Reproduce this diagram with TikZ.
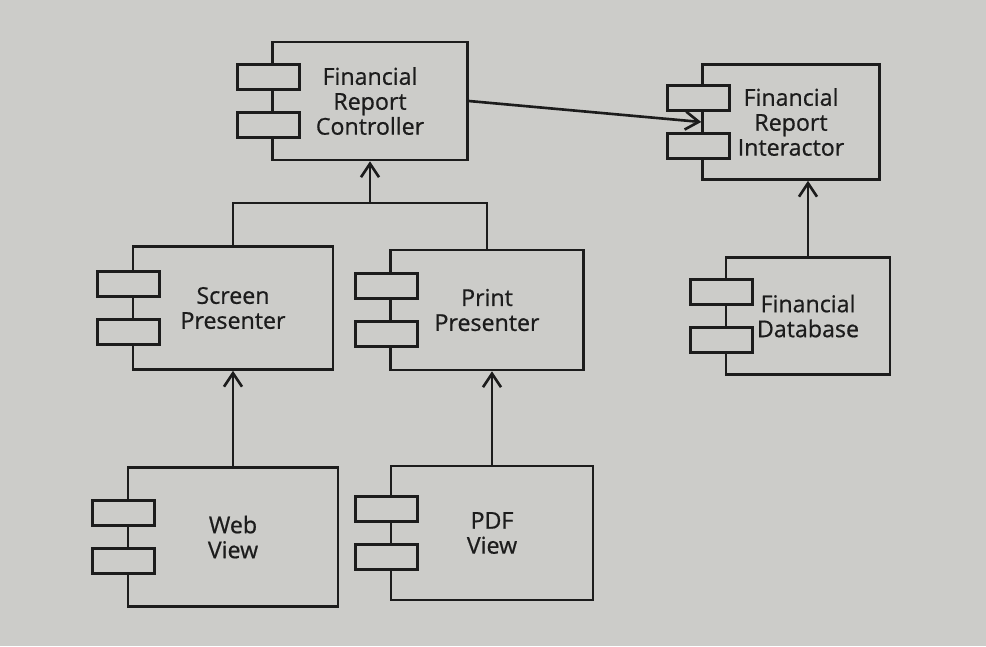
\documentclass[tikz,border=0pt]{standalone}
\usepackage{fontspec}
\setmainfont{Open Sans}
\newfontfamily\compfont{Open Sans}[FakeBold=0.7]
\usetikzlibrary{arrows.meta,calc}
\definecolor{paper}{RGB}{204,204,201}
\definecolor{ink}{RGB}{28,28,28}
\tikzset{
  >={Straight Barb[length=2.7mm,width=3.6mm]},
  comp/.style 2 args={draw=ink,line width=1.5pt,minimum width=#1,minimum height=#2,
    align=center,text=ink,inner sep=0pt,font=\compfont\fontsize{13.2}{14.2}\selectfont},
  port/.style={draw=ink,line width=1.5pt,fill=paper,minimum width=12.4mm,
    minimum height=5mm,inner sep=0pt},
  dep/.style={->,line width=1.5pt,draw=ink},
}

\begin{document}
\begin{tikzpicture}[x=0.02cm,y=-0.02cm]
  \fill[paper] (0,0) rectangle (986,646);
  % components
  \node[comp={39mm}{23.6mm}] (ctrl) at (370,101) {Financial\\Report\\Controller};
  \node[comp={35.4mm}{23mm}] (inter) at (791,122) {Financial\\Report\\Interactor};
  \node[comp={40mm}{24.6mm}] (scr) at (233,308) {Screen\\Presenter};
  \node[comp={38.6mm}{24mm}] (prt) at (487,310) {Print\\Presenter};
  \node[comp={32.8mm}{23.4mm}] (db) at (808,316) {Financial\\Database};
  \node[comp={42mm}{27.8mm}] (web) at (233,537) {Web\\View};
  \node[comp={40.4mm}{26.8mm}] (pdf) at (492,533) {PDF\\View};
  \foreach \c in {ctrl,inter,scr,prt,db,web,pdf}{
    \node[port] (\c-a) at ($(\c.west)+(-0.6mm,4.8mm)$) {};
    \node[port] (\c-b) at ($(\c.west)+(-0.6mm,-4.8mm)$) {};
  }
  % dependencies
  \coordinate (j) at (ctrl.south |- 0,203);
  \draw[line width=1.5pt,draw=ink] (scr.north) |- (j) -| (prt.north);
  \draw[dep] (j) -- (ctrl.south);
  \draw[dep] (ctrl.east) -- (inter.west);
  \draw[dep] (web.north) -- (web.north |- scr.south);
  \draw[dep] (pdf.north) -- (pdf.north |- prt.south);
  \draw[dep] (db.north) -- (db.north |- inter.south);
\end{tikzpicture}
\end{document}
